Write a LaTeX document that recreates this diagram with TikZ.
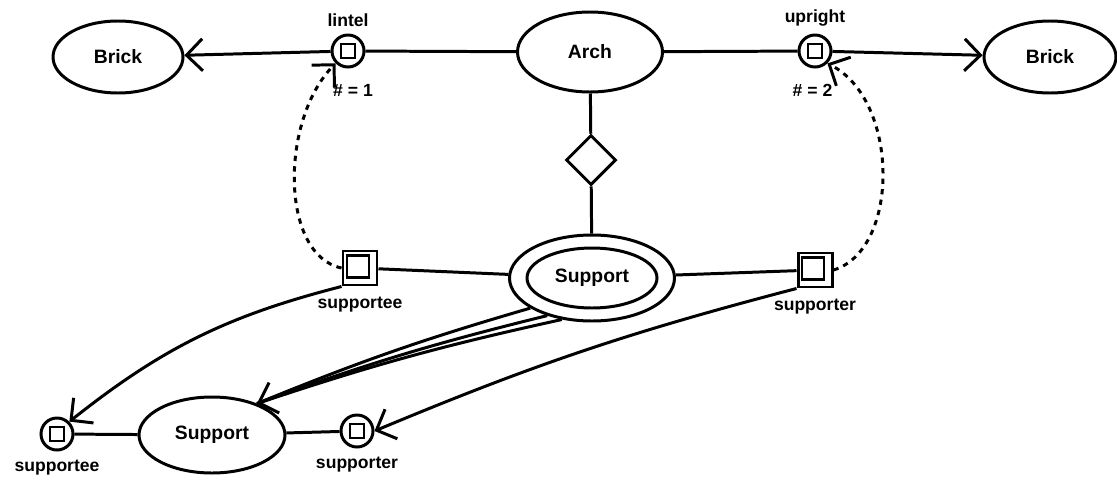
\documentclass[tikz,border=0pt]{standalone}
\usepackage{fontspec}
\setmainfont{Liberation Sans}
\usetikzlibrary{shapes.geometric, arrows.meta}

\begin{document}
\begin{tikzpicture}[
		line width=1.7pt,
		every node/.style={draw, line width=1.7pt, inner sep=0pt, font=\fontsize{11}{13}\selectfont\bfseries},
		every label/.append style={draw=none, rectangle, inner sep=1pt, font=\fontsize{10}{12}\selectfont\bfseries},
		thing/.style={ellipse, minimum width=2.9cm, minimum height=1.5cm},
		port/.style={circle, minimum size=6.4mm},
		box/.style={rectangle, minimum size=2.8mm, line width=1.2pt},
		slot/.style={rectangle, minimum size=6.8mm},
		>={Straight Barb[length=3.2mm, width=6.4mm]}
	]
  \useasboundingbox (0,0) rectangle (22.34,9.6);

  \node (brick_l) [thing, minimum width=2.6cm, minimum height=1.44cm] at (2.36cm, 8.46cm) {Brick};
  \node (lintel) [port, label={[label distance=0.8mm]above:{lintel}}, label={[label distance=2.5mm, xshift=1mm]below:{\# = 1}}] at (6.96cm, 8.58cm) {};
  \node (lintel_sq) [box] at (6.96cm, 8.58cm) {};
  \node (arch) [thing, minimum height=1.6cm] at (11.8cm, 8.56cm) {Arch};
  \node (upright) [port, label={[label distance=0.8mm]above:{upright}}, label={[label distance=2.5mm, xshift=-0.5mm]below:{\# = 2}}] at (16.3cm, 8.58cm) {};
  \node (upright_sq) [box] at (16.3cm, 8.58cm) {};
  \node (brick_r) [thing, minimum width=2.64cm, minimum height=1.44cm] at (21cm, 8.46cm) {Brick};
  \node (agg) [diamond, minimum size=1cm] at (11.82cm, 6.4cm) {};

  \node (support) [ellipse, minimum width=3.3cm, minimum height=1.72cm] at (11.84cm, 4.04cm) {};
  \node (support_in) [ellipse, minimum width=2.6cm, minimum height=1.2cm] at (11.84cm, 4.04cm) {Support};
  \node (supportee) [slot, label={[label distance=1.5mm]below:{supportee}}] at (7.2cm, 4.24cm) {};
  \node (supportee_sq) [box, minimum size=4.4mm] at (7.16cm, 4.27cm) {};
  \node (supporter) [slot, label={[label distance=1.5mm]below:{supporter}}] at (16.3cm, 4.2cm) {};
  \node (supporter_sq) [box, minimum size=4.4mm] at (16.26cm, 4.23cm) {};

  \node (support_b) [thing, minimum width=2.92cm, minimum height=1.52cm] at (4.24cm, 0.9cm) {Support};
  \node (supportee_b) [port, label={[label distance=1mm]below:{supportee}}] at (1.14cm, 0.92cm) {};
  \node (supportee_b_sq) [box] at (1.14cm, 0.92cm) {};
  \node (supporter_b) [port, label={[label distance=1mm]below:{supporter}}] at (7.14cm, 0.98cm) {};
  \node (supporter_b_sq) [box] at (7.14cm, 0.98cm) {};

  \draw [->] (lintel) -- (brick_l);
  \draw (lintel) -- (arch);
  \draw (arch) -- (upright);
  \draw [->] (upright) -- (brick_r);
  \draw (arch) -- (agg) -- (support);
  \draw (supportee) -- (support);
  \draw (support) -- (supporter);
  \draw [->, dashed] (supportee.west) .. controls (5.6cm, 4.5cm) and (5.6cm, 7.2cm) .. (lintel.south west);
  \draw [->, dashed] (supporter.east) .. controls (18cm, 4.6cm) and (18cm, 7.6cm) .. (upright.south east);

  \draw (supportee_b) -- (support_b);
  \draw (support_b) -- (supporter_b);
  \draw [->] (supportee.south west) to [bend right=12] (supportee_b.north east);
  \draw [->] (supporter.south west) to [bend right=4] (supporter_b.east);
  \draw (support.206) to [bend right=3] (support_b.35);
  \draw (support.220) to [bend right=3] (support_b.35);
  \draw [->] (support.234) to [bend right=3] (support_b.35);
\end{tikzpicture}
\end{document}
